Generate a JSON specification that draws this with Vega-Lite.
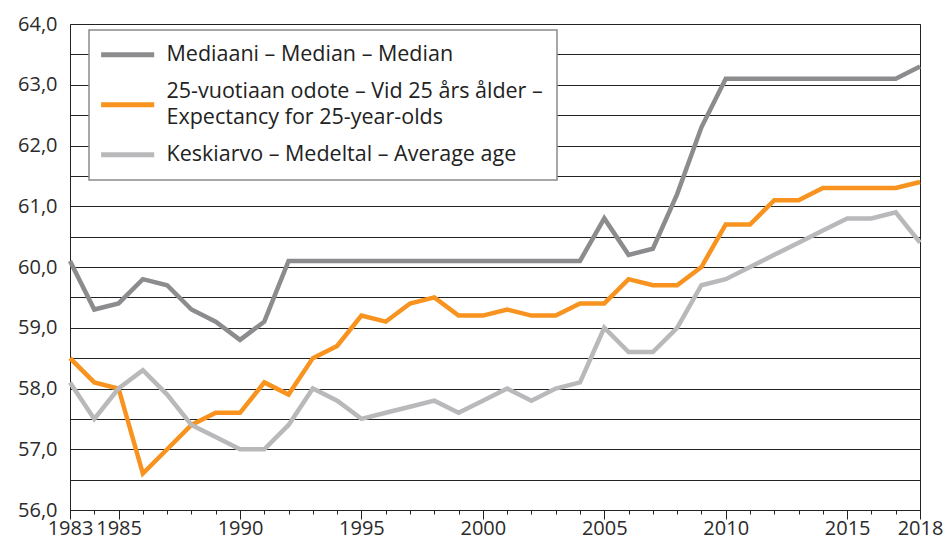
{
  "$schema": "https://vega.github.io/schema/vega-lite/v6.json",
  "width": 850,
  "height": 486,
  "autosize": {"type": "none"},
  "padding": {"left": 70, "top": 24, "right": 24, "bottom": 34},
  "background": "white",
  "config": {
    "view": {"stroke": "#222222", "strokeWidth": 1},
    "font": "Open Sans"
  },
  "data": {"values": [
    {"year":1983,"s":"Mediaani","v":60.1},{"year":1984,"s":"Mediaani","v":59.3},{"year":1985,"s":"Mediaani","v":59.4},{"year":1986,"s":"Mediaani","v":59.8},{"year":1987,"s":"Mediaani","v":59.7},{"year":1988,"s":"Mediaani","v":59.3},{"year":1989,"s":"Mediaani","v":59.1},{"year":1990,"s":"Mediaani","v":58.8},{"year":1991,"s":"Mediaani","v":59.1},{"year":1992,"s":"Mediaani","v":60.1},
    {"year":1993,"s":"Mediaani","v":60.1},{"year":1994,"s":"Mediaani","v":60.1},{"year":1995,"s":"Mediaani","v":60.1},{"year":1996,"s":"Mediaani","v":60.1},{"year":1997,"s":"Mediaani","v":60.1},{"year":1998,"s":"Mediaani","v":60.1},{"year":1999,"s":"Mediaani","v":60.1},{"year":2000,"s":"Mediaani","v":60.1},{"year":2001,"s":"Mediaani","v":60.1},{"year":2002,"s":"Mediaani","v":60.1},{"year":2003,"s":"Mediaani","v":60.1},{"year":2004,"s":"Mediaani","v":60.1},
    {"year":2005,"s":"Mediaani","v":60.8},{"year":2006,"s":"Mediaani","v":60.2},{"year":2007,"s":"Mediaani","v":60.3},{"year":2008,"s":"Mediaani","v":61.2},{"year":2009,"s":"Mediaani","v":62.3},
    {"year":2010,"s":"Mediaani","v":63.1},{"year":2011,"s":"Mediaani","v":63.1},{"year":2012,"s":"Mediaani","v":63.1},{"year":2013,"s":"Mediaani","v":63.1},{"year":2014,"s":"Mediaani","v":63.1},{"year":2015,"s":"Mediaani","v":63.1},{"year":2016,"s":"Mediaani","v":63.1},{"year":2017,"s":"Mediaani","v":63.1},{"year":2018,"s":"Mediaani","v":63.3},

    {"year":1983,"s":"Odote","v":58.5},{"year":1984,"s":"Odote","v":58.1},{"year":1985,"s":"Odote","v":58.0},{"year":1986,"s":"Odote","v":56.6},{"year":1987,"s":"Odote","v":57.0},{"year":1988,"s":"Odote","v":57.4},{"year":1989,"s":"Odote","v":57.6},{"year":1990,"s":"Odote","v":57.6},{"year":1991,"s":"Odote","v":58.1},{"year":1992,"s":"Odote","v":57.9},
    {"year":1993,"s":"Odote","v":58.5},{"year":1994,"s":"Odote","v":58.7},{"year":1995,"s":"Odote","v":59.2},{"year":1996,"s":"Odote","v":59.1},{"year":1997,"s":"Odote","v":59.4},{"year":1998,"s":"Odote","v":59.5},{"year":1999,"s":"Odote","v":59.2},{"year":2000,"s":"Odote","v":59.2},{"year":2001,"s":"Odote","v":59.3},{"year":2002,"s":"Odote","v":59.2},
    {"year":2003,"s":"Odote","v":59.2},{"year":2004,"s":"Odote","v":59.4},{"year":2005,"s":"Odote","v":59.4},{"year":2006,"s":"Odote","v":59.8},{"year":2007,"s":"Odote","v":59.7},{"year":2008,"s":"Odote","v":59.7},{"year":2009,"s":"Odote","v":60.0},{"year":2010,"s":"Odote","v":60.7},{"year":2011,"s":"Odote","v":60.7},{"year":2012,"s":"Odote","v":61.1},
    {"year":2013,"s":"Odote","v":61.1},{"year":2014,"s":"Odote","v":61.3},{"year":2015,"s":"Odote","v":61.3},{"year":2016,"s":"Odote","v":61.3},{"year":2017,"s":"Odote","v":61.3},{"year":2018,"s":"Odote","v":61.4},

    {"year":1983,"s":"Keskiarvo","v":58.1},{"year":1984,"s":"Keskiarvo","v":57.5},{"year":1985,"s":"Keskiarvo","v":58.0},{"year":1986,"s":"Keskiarvo","v":58.3},{"year":1987,"s":"Keskiarvo","v":57.9},{"year":1988,"s":"Keskiarvo","v":57.4},{"year":1989,"s":"Keskiarvo","v":57.2},{"year":1990,"s":"Keskiarvo","v":57.0},{"year":1991,"s":"Keskiarvo","v":57.0},{"year":1992,"s":"Keskiarvo","v":57.4},
    {"year":1993,"s":"Keskiarvo","v":58.0},{"year":1994,"s":"Keskiarvo","v":57.8},{"year":1995,"s":"Keskiarvo","v":57.5},{"year":1996,"s":"Keskiarvo","v":57.6},{"year":1997,"s":"Keskiarvo","v":57.7},{"year":1998,"s":"Keskiarvo","v":57.8},{"year":1999,"s":"Keskiarvo","v":57.6},{"year":2000,"s":"Keskiarvo","v":57.8},{"year":2001,"s":"Keskiarvo","v":58.0},{"year":2002,"s":"Keskiarvo","v":57.8},
    {"year":2003,"s":"Keskiarvo","v":58.0},{"year":2004,"s":"Keskiarvo","v":58.1},{"year":2005,"s":"Keskiarvo","v":59.0},{"year":2006,"s":"Keskiarvo","v":58.6},{"year":2007,"s":"Keskiarvo","v":58.6},{"year":2008,"s":"Keskiarvo","v":59.0},{"year":2009,"s":"Keskiarvo","v":59.7},{"year":2010,"s":"Keskiarvo","v":59.8},{"year":2011,"s":"Keskiarvo","v":60.0},{"year":2012,"s":"Keskiarvo","v":60.2},
    {"year":2013,"s":"Keskiarvo","v":60.4},{"year":2014,"s":"Keskiarvo","v":60.6},{"year":2015,"s":"Keskiarvo","v":60.8},{"year":2016,"s":"Keskiarvo","v":60.8},{"year":2017,"s":"Keskiarvo","v":60.9},{"year":2018,"s":"Keskiarvo","v":60.4}
  ]},
  "mark": {"type": "line", "strokeWidth": 4.5, "strokeJoin": "miter", "strokeCap": "butt"},
  "encoding": {
    "x": {
      "field": "year", "type": "quantitative",
      "scale": {"domain": [1983, 2018], "nice": false, "zero": false},
      "axis": {
        "title": null, "grid": false,
        "values": [1983,1984,1985,1986,1987,1988,1989,1990,1991,1992,1993,1994,1995,1996,1997,1998,1999,2000,2001,2002,2003,2004,2005,2006,2007,2008,2009,2010,2011,2012,2013,2014,2015,2016,2017,2018],
        "format": "d",
        "labelExpr": "indexof([1983,1985,1990,1995,2000,2005,2010,2015,2018], datum.value) >= 0 ? datum.label : ''",
        "tickSize": {"condition": {"test": "indexof([1983,1985,1990,1995,2000,2005,2010,2015,2018], datum.value) >= 0", "value": 9}, "value": 4},
        "tickColor": "#222222", "domainColor": "#222222",
        "labelFontSize": 20, "labelColor": "#2b2b2b", "labelFont": "Open Sans",
        "labelOverlap": false, "labelFlush": false, "labelPadding": -1, "labelBound": false
      }
    },
    "y": {
      "field": "v", "type": "quantitative",
      "scale": {"domain": [56, 64], "nice": false, "zero": false},
      "axis": {
        "title": null,
        "values": [56,56.5,57,57.5,58,58.5,59,59.5,60,60.5,61,61.5,62,62.5,63,63.5,64],
        "labelExpr": "datum.value % 1 == 0 ? replace(format(datum.value, '.1f'), '.', ',') : ''",
        "grid": true, "gridColor": "#222222", "gridWidth": 1, "gridOpacity": 1,
        "ticks": false, "domain": false,
        "labelFontSize": 20, "labelColor": "#2b2b2b", "labelFont": "Open Sans",
        "labelPadding": 13, "labelOverlap": false
      }
    },
    "color": {
      "field": "s", "type": "nominal",
      "scale": {"domain": ["Mediaani", "Odote", "Keskiarvo"], "range": ["#8c8c8f", "#f7931e", "#b9b9bc"]},
      "legend": {
        "title": null,
        "orient": "none", "legendX": 19, "legendY": 6,
        "direction": "vertical",
        "fillColor": "white", "strokeColor": "#8a8a8a",
        "padding": 14,
        "symbolType": "M-1,0H7", "symbolSize": 176, "symbolStrokeWidth": 5, "symbolOffset": -6,
        "labelFontSize": 21.5, "labelColor": "#222222", "labelFont": "Open Sans",
        "labelOffset": 48, "labelLimit": 700,
        "rowPadding": 14,
        "labelExpr": "datum.label == 'Mediaani' ? 'Mediaani – Median – Median' : datum.label == 'Keskiarvo' ? 'Keskiarvo – Medeltal – Average age' : ['25-vuotiaan odote – Vid 25 års ålder –', 'Expectancy for 25-year-olds']",
        "encode": {
          "legend": {"update": {"strokeWidth": {"value": 1.5}}},
          "labels": {"update": {"lineHeight": {"value": 26.5}, "dy": {"signal": "datum.value == 'Odote' ? -13 : 0"}}}
        }
      }
    }
  }
}
